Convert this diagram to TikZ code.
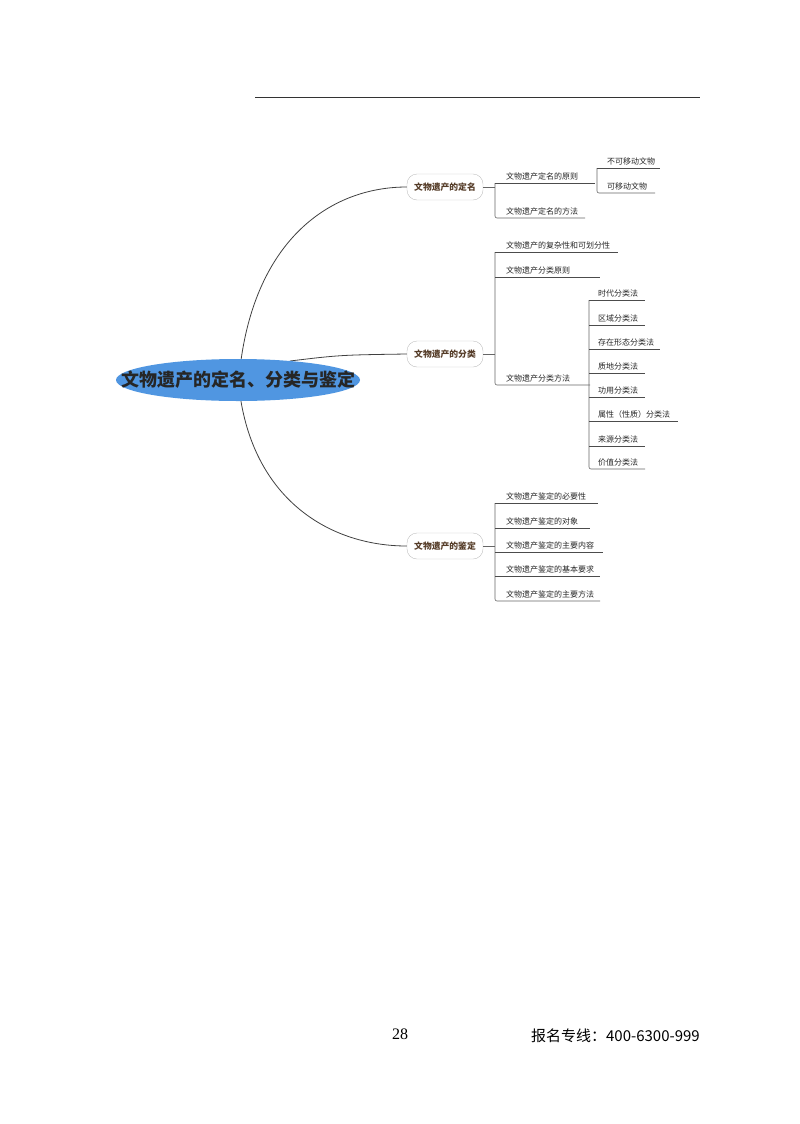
\documentclass[tikz,border=0pt]{standalone}
\usepackage{fontspec}
\newfontfamily\cjk{Noto Sans CJK SC}
\setmainfont{Liberation Serif}
\definecolor{cblue}{RGB}{80,150,225}
\definecolor{lbrown}{RGB}{85,60,40}
\begin{document}
\begin{tikzpicture}[x=1pt,y=-1pt,
  root/.style={inner sep=0pt,font=\cjk\bfseries\fontsize{18}{20}\selectfont,text=black!85},
  lvl/.style={rounded corners=10pt,draw=black!25,minimum width=76pt,minimum height=26pt,inner sep=2pt,font=\cjk\bfseries\fontsize{8.8}{10}\selectfont,text=lbrown},
  item/.style={anchor=south west,inner sep=1pt,font=\cjk\fontsize{8}{9}\selectfont,text=black!85},
  ul/.style={draw=black!70,line width=0.6pt},
  br/.style={draw=black!60,line width=0.6pt,rounded corners=2pt},
  curve/.style={draw=black!75,line width=0.8pt}]
\useasboundingbox (0,0) rectangle (800,1124);
\draw[black!80,line width=0.8pt] (255,97) -- (700,97);
\coordinate (c1) at (240,368);
\coordinate (c2) at (290,361);
\coordinate (c3) at (240,395);
\node[lvl] (n1) at (445,187) {文物遗产的定名};
\node[lvl] (n2) at (445,354) {文物遗产的分类};
\node[lvl] (n3) at (445,546) {文物遗产的鉴定};
\draw[curve] (c1) .. controls (255,240) and (330,187) .. (n1.west);
\draw[curve] (c2) .. controls (340,355) .. (n2.west);
\draw[curve] (c3) .. controls (255,500) and (330,546) .. (n3.west);
\fill[cblue] (238,380) ellipse [x radius=122, y radius=21];
\node[root] (r) at (238,380) {文物遗产的定名、分类与鉴定};
% group 1
\draw[br] (n1.east) -- (495,187);
\draw[br] (495,183) -- (495,218) -- (585,218);
\draw[ul] (495,183) -- (595,183);
\node[item] (a1) at (505,181) {文物遗产定名的原则};
\node[item] (a2) at (505,216) {文物遗产定名的方法};
\draw[br] (597,168) -- (597,193) -- (655,193);
\draw[ul] (597,168) -- (660,168);
\node[item] (a11) at (606,166) {不可移动文物};
\node[item] (a12) at (606,191) {可移动文物};
% group 2
\draw[br] (n2.east) -- (495,354);
\draw[br] (495,252) -- (495,385) -- (590,385);
\draw[ul] (495,252) -- (618,252);
\draw[ul] (495,277) -- (600,277);
\node[item] (b1n) at (505,250) {文物遗产的复杂性和可划分性};
\node[item] (b2n) at (505,275) {文物遗产分类原则};
\node[item] (b3n) at (505,383) {文物遗产分类方法};
\draw[br] (589,300) -- (589,469) -- (645,469);
\foreach \y/\t/\e in {300/时代分类法/645,325/区域分类法/645,349/存在形态分类法/660,373/质地分类法/645,397/功用分类法/645,421/属性（性质）分类法/678,446/来源分类法/645}{
  \draw[ul] (589,\y) -- (\e,\y);
  \node[item] at (597,\y-2) {\t};
}
\node[item] (b37) at (597,467) {价值分类法};
% group 3
\draw[br] (n3.east) -- (495,546);
\draw[br] (495,503) -- (495,601) -- (600,601);
\foreach \y/\t/\e in {503/文物遗产鉴定的必要性/598,528/文物遗产鉴定的对象/590,552/文物遗产鉴定的主要内容/603,576/文物遗产鉴定的基本要求/600}{
  \draw[ul] (495,\y) -- (\e,\y);
  \node[item] at (505,\y-2) {\t};
}
\node[item] (c5) at (505,599) {文物遗产鉴定的主要方法};
% footer
\node[font=\fontsize{16}{18}\selectfont] (pg) at (400,1034) {28};
\node[anchor=east,inner sep=0pt,font=\cjk\fontsize{15}{18}\selectfont] (tel) at (700,1036) {报名专线：400-6300-999};
\end{tikzpicture}
\end{document}
